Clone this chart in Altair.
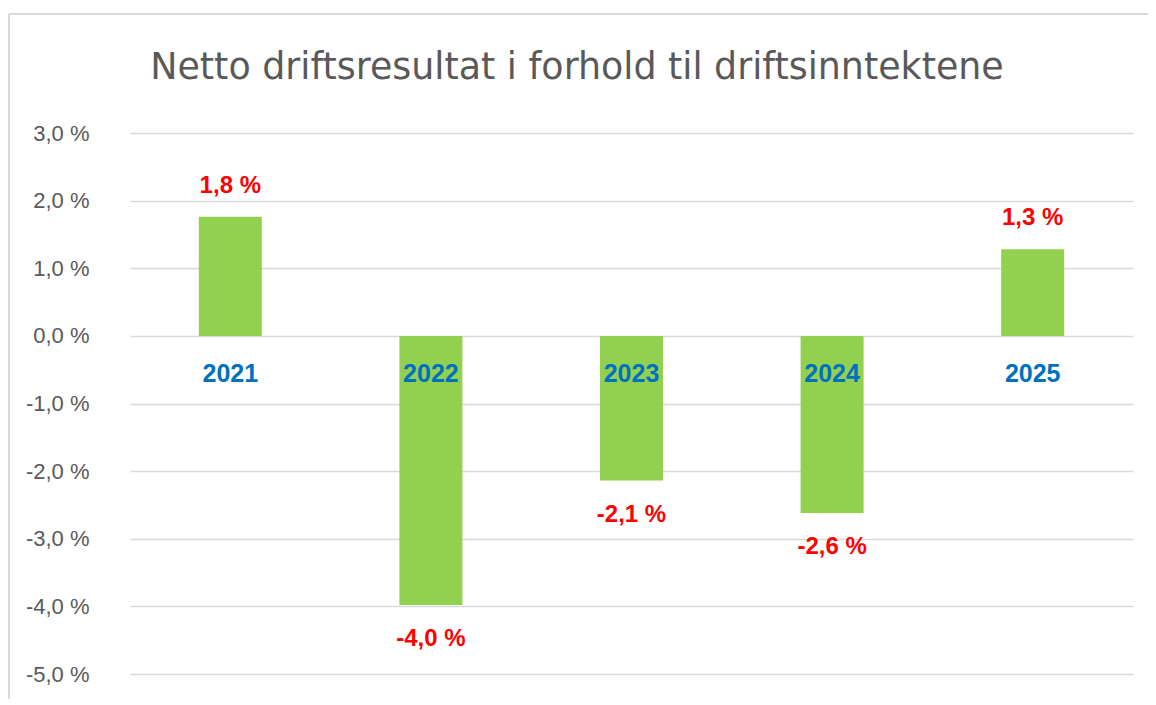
import altair as alt
import pandas as pd

years = ["2021", "2022", "2023", "2024", "2025"]
values = [1.76, -3.98, -2.14, -2.62, 1.28]
y_ticks = [3, 2, 1, 0, -1, -2, -3, -4, -5]
title_text = "Netto driftsresultat i forhold til driftsinntektene"

df = pd.DataFrame({"year": years, "value": values})

W, H = 1003, 541
FONT = "Liberation Sans"
label_expr = "replace(replace(format(datum.value, '.1f'), '.', ','), '\u2212', '-') + ' %'"

x_enc = alt.X("year:N", sort=years, axis=None,
              scale=alt.Scale(paddingInner=0, paddingOuter=0))
y_scale = alt.Scale(domain=[-5, 3], nice=False)

base = alt.Chart(df).encode(x=x_enc)

bars = base.mark_bar(color="#92D050", size=63).encode(
    y=alt.Y("value:Q", scale=y_scale,
            axis=alt.Axis(values=y_ticks, title=None, labelExpr=label_expr,
                          grid=True, gridColor="#d9d9d9", gridWidth=1.5,
                          domain=False, ticks=False, labelFont=FONT,
                          labelFontSize=22, labelColor="#595959",
                          labelPadding=41)),
    y2=alt.datum(0),
)

lbl = base.transform_calculate(label=label_expr)
pos_labels = lbl.transform_filter("datum.value >= 0").mark_text(
    font=FONT, fontSize=24, fontWeight="bold", color="#FF0000",
    baseline="middle", dy=-31,
).encode(y=alt.Y("value:Q", scale=y_scale), text="label:N")
neg_labels = lbl.transform_filter("datum.value < 0").mark_text(
    font=FONT, fontSize=24, fontWeight="bold", color="#FF0000",
    baseline="middle", dy=34,
).encode(y=alt.Y("value:Q", scale=y_scale), text="label:N")

year_labels = base.mark_text(
    font=FONT, fontSize=25, fontWeight="bold", color="#0070C0",
    baseline="middle", dy=38,
).encode(y=alt.datum(0, scale=y_scale), text="year:N")

frame_df = pd.DataFrame({"t": [title_text]})
title_mark = alt.Chart(frame_df).mark_text(
    font="DejaVu Sans", fontSize=36.4, color="#595959", align="center",
    baseline="alphabetic",
).encode(x=alt.value(447), y=alt.value(-54), text="t:N")
frame_top = alt.Chart(frame_df).mark_rule(color="#d9d9d9", strokeWidth=2).encode(
    x=alt.value(-121), x2=alt.value(1100), y=alt.value(-119))
frame_left = alt.Chart(frame_df).mark_rule(color="#d9d9d9", strokeWidth=2).encode(
    x=alt.value(-121), y=alt.value(-119), y2=alt.value(600))

chart = alt.layer(
    bars, pos_labels, neg_labels, year_labels, title_mark, frame_top, frame_left
).properties(
    width=W, height=H,
    autosize=alt.AutoSizeParams(type="none"),
    padding={"left": 122, "top": 125, "right": 15, "bottom": 25},
).configure_view(strokeWidth=0)

chart.save("out.html", embed_options={"renderer": "svg", "actions": False})
